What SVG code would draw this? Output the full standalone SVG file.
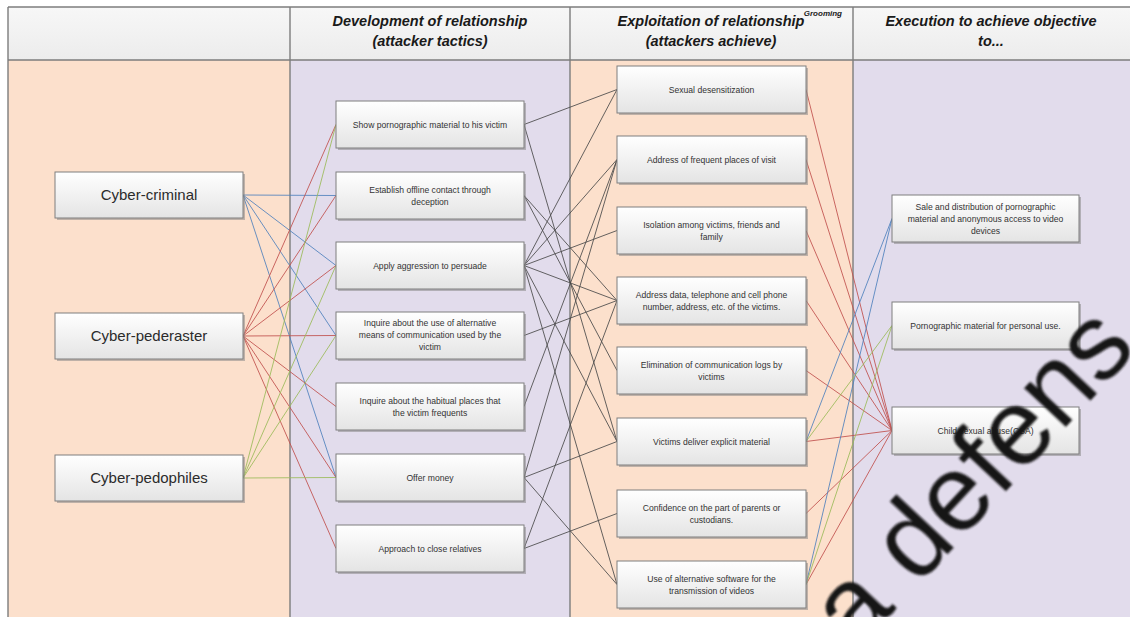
<svg xmlns="http://www.w3.org/2000/svg" width="1130" height="617" viewBox="0 0 1130 617">
  <defs>
    <linearGradient id="boxFill" x1="0" y1="0" x2="0" y2="1">
      <stop offset="0" stop-color="#ffffff"/>
      <stop offset="1" stop-color="#e4e4e4"/>
    </linearGradient>
    <linearGradient id="headFill" x1="0" y1="0" x2="0" y2="1">
      <stop offset="0" stop-color="#f7f7f7"/>
      <stop offset="1" stop-color="#ececec"/>
    </linearGradient>
    <filter id="soft" x="-5%" y="-5%" width="110%" height="110%">
      <feGaussianBlur stdDeviation="0.9"/>
    </filter>
  </defs>
  <style>
    .peach { fill: #fce0cc; }
    .lav { fill: #e2dcec; }
    .grid { stroke: #7c7c7c; stroke-width: 1.4; fill: none; }
    .head { font-family: "Liberation Sans", Arial, sans-serif; font-weight: bold; font-style: italic; font-size: 14.5px; fill: #1a1a1a; text-anchor: middle; }
    .tag { font-family: "Liberation Sans", Arial, sans-serif; font-weight: bold; font-style: italic; font-size: 8px; fill: #1a1a1a; text-anchor: end; }
    .box { fill: url(#boxFill); stroke: #7f7f7f; stroke-width: 1; }
    .shadow { fill: #8a8a8a; opacity: 0.55; }
    .big { font-family: "Liberation Sans", Arial, sans-serif; font-size: 15px; fill: #2b2b2b; text-anchor: middle; }
    .small { font-family: "Liberation Sans", Arial, sans-serif; font-size: 8.6px; fill: #333333; text-anchor: middle; }
    .c-red { stroke: #c0504d; }
    .c-blue { stroke: #4f81bd; }
    .c-green { stroke: #9bbb59; }
    .c-gray { stroke: #4a4a4a; }
    #connectors line { stroke-width: 1; opacity: 0.85; }
    .mark { font-family: "Liberation Sans", Arial, sans-serif; font-size: 108px; fill: #151515; }
  </style>

  <!-- page -->
  <rect x="0" y="0" width="1130" height="617" fill="#ffffff"/>

  <!-- column bodies -->
  <rect class="peach" x="8" y="60" width="282" height="557"/>
  <rect class="lav" x="290" y="60" width="280" height="557"/>
  <rect class="peach" x="570" y="60" width="283" height="557"/>
  <rect class="lav" x="853" y="60" width="277" height="557"/>

  <!-- header row -->
  <rect x="8" y="7" width="1122" height="53" fill="url(#headFill)"/>
  <g class="grid">
    <line x1="8" y1="7" x2="1130" y2="7"/>
    <line x1="8" y1="60" x2="1130" y2="60"/>
    <line x1="8" y1="7" x2="8" y2="617"/>
    <line x1="290" y1="7" x2="290" y2="617"/>
    <line x1="570" y1="7" x2="570" y2="617"/>
    <line x1="853" y1="7" x2="853" y2="617"/>
  </g>
  <g id="headers">
    <text class="head" x="430" y="26">Development of relationship</text>
    <text class="head" x="430" y="46">(attacker tactics)</text>
    <text class="head" x="711" y="26">Exploitation of relationship</text>
    <text class="head" x="711" y="46">(attackers achieve)</text>
    <text class="tag" x="842" y="16">Grooming</text>
    <text class="head" x="991" y="26">Execution to achieve objective</text>
    <text class="head" x="991" y="46">to...</text>
  </g>

  <!-- connectors -->
  <g id="connectors">
    <!-- Cyber-criminal -->
    <line class="c-blue" x1="243" y1="195" x2="336" y2="195.5"/>
    <line class="c-blue" x1="243" y1="195" x2="336" y2="265.5"/>
    <line class="c-blue" x1="243" y1="195" x2="336" y2="335.5"/>
    <line class="c-blue" x1="243" y1="195" x2="336" y2="477.5"/>
    <!-- Cyber-pederaster -->
    <line class="c-red" x1="243" y1="336" x2="336" y2="124.5"/>
    <line class="c-red" x1="243" y1="336" x2="336" y2="195.5"/>
    <line class="c-red" x1="243" y1="336" x2="336" y2="265.5"/>
    <line class="c-red" x1="243" y1="336" x2="336" y2="335.5"/>
    <line class="c-red" x1="243" y1="336" x2="336" y2="406.5"/>
    <line class="c-red" x1="243" y1="336" x2="336" y2="477.5"/>
    <line class="c-red" x1="243" y1="336" x2="336" y2="548.5"/>
    <!-- Cyber-pedophiles -->
    <line class="c-green" x1="243" y1="478" x2="336" y2="124.5"/>
    <line class="c-green" x1="243" y1="478" x2="336" y2="265.5"/>
    <line class="c-green" x1="243" y1="478" x2="336" y2="335.5"/>
    <line class="c-green" x1="243" y1="478" x2="336" y2="477.5"/>

    <!-- tactics to achievements -->
    <line class="c-gray" x1="524" y1="124.5" x2="617" y2="89.5"/>
    <line class="c-gray" x1="524" y1="124.5" x2="617" y2="441.5"/>
    <line class="c-gray" x1="524" y1="195.5" x2="617" y2="300.5"/>
    <line class="c-gray" x1="524" y1="195.5" x2="617" y2="370.5"/>
    <line class="c-gray" x1="524" y1="265.5" x2="617" y2="89.5"/>
    <line class="c-gray" x1="524" y1="265.5" x2="617" y2="159.5"/>
    <line class="c-gray" x1="524" y1="265.5" x2="617" y2="230.5"/>
    <line class="c-gray" x1="524" y1="265.5" x2="617" y2="300.5"/>
    <line class="c-gray" x1="524" y1="265.5" x2="617" y2="441.5"/>
    <line class="c-gray" x1="524" y1="265.5" x2="617" y2="584.5"/>
    <line class="c-gray" x1="524" y1="335.5" x2="617" y2="300.5"/>
    <line class="c-gray" x1="524" y1="406.5" x2="617" y2="159.5"/>
    <line class="c-gray" x1="524" y1="477.5" x2="617" y2="159.5"/>
    <line class="c-gray" x1="524" y1="477.5" x2="617" y2="441.5"/>
    <line class="c-gray" x1="524" y1="477.5" x2="617" y2="584.5"/>
    <line class="c-gray" x1="524" y1="548.5" x2="617" y2="300.5"/>
    <line class="c-gray" x1="524" y1="548.5" x2="617" y2="513.5"/>

    <!-- achievements to objectives -->
    <line class="c-red" x1="806" y1="89.5" x2="892" y2="430.5"/>
    <line class="c-red" x1="806" y1="159.5" x2="892" y2="430.5"/>
    <line class="c-red" x1="806" y1="230.5" x2="892" y2="430.5"/>
    <line class="c-red" x1="806" y1="300.5" x2="892" y2="430.5"/>
    <line class="c-red" x1="806" y1="370.5" x2="892" y2="430.5"/>
    <line class="c-red" x1="806" y1="441.5" x2="892" y2="430.5"/>
    <line class="c-red" x1="806" y1="513.5" x2="892" y2="430.5"/>
    <line class="c-red" x1="806" y1="584.5" x2="892" y2="430.5"/>
    <line class="c-blue" x1="806" y1="441.5" x2="892" y2="218.5"/>
    <line class="c-blue" x1="806" y1="584.5" x2="892" y2="218.5"/>
    <line class="c-green" x1="806" y1="441.5" x2="892" y2="325.5"/>
    <line class="c-green" x1="806" y1="584.5" x2="892" y2="325.5"/>
  </g>

  <!-- attackers -->
  <g id="cyber-criminal">
    <rect class="shadow" x="57" y="174" width="188" height="46"/>
    <rect class="box" x="55" y="172" width="188" height="46"/>
    <text class="big" x="149" y="200">Cyber-criminal</text>
  </g>
  <g id="cyber-pederaster">
    <rect class="shadow" x="57" y="315" width="188" height="46"/>
    <rect class="box" x="55" y="313" width="188" height="46"/>
    <text class="big" x="149" y="341">Cyber-pederaster</text>
  </g>
  <g id="cyber-pedophiles">
    <rect class="shadow" x="57" y="457" width="188" height="46"/>
    <rect class="box" x="55" y="455" width="188" height="46"/>
    <text class="big" x="149" y="483">Cyber-pedophiles</text>
  </g>

  <!-- tactics -->
  <g id="t-show">
    <rect class="shadow" x="338" y="103" width="188" height="47"/>
    <rect class="box" x="336" y="101" width="188" height="47"/>
    <text class="small" x="430" y="127.5">Show pornographic material to his victim</text>
  </g>
  <g id="t-establish">
    <rect class="shadow" x="338" y="174" width="188" height="47"/>
    <rect class="box" x="336" y="172" width="188" height="47"/>
    <text class="small" x="430" y="193">Establish offline contact through</text>
    <text class="small" x="430" y="205">deception</text>
  </g>
  <g id="t-apply">
    <rect class="shadow" x="338" y="244" width="188" height="47"/>
    <rect class="box" x="336" y="242" width="188" height="47"/>
    <text class="small" x="430" y="268.5">Apply aggression to persuade</text>
  </g>
  <g id="t-means">
    <rect class="shadow" x="338" y="314" width="188" height="47"/>
    <rect class="box" x="336" y="312" width="188" height="47"/>
    <text class="small" x="430" y="326">Inquire about the use of alternative</text>
    <text class="small" x="430" y="338">means of communication used by the</text>
    <text class="small" x="430" y="350">victim</text>
  </g>
  <g id="t-places">
    <rect class="shadow" x="338" y="385" width="188" height="47"/>
    <rect class="box" x="336" y="383" width="188" height="47"/>
    <text class="small" x="430" y="403.5">Inquire about the habitual places that</text>
    <text class="small" x="430" y="415.5">the victim frequents</text>
  </g>
  <g id="t-money">
    <rect class="shadow" x="338" y="456" width="188" height="47"/>
    <rect class="box" x="336" y="454" width="188" height="47"/>
    <text class="small" x="430" y="480.5">Offer money</text>
  </g>
  <g id="t-relatives">
    <rect class="shadow" x="338" y="527" width="188" height="47"/>
    <rect class="box" x="336" y="525" width="188" height="47"/>
    <text class="small" x="430" y="551.5">Approach to close relatives</text>
  </g>

  <!-- achievements -->
  <g id="a-desens">
    <rect class="shadow" x="619" y="68" width="189" height="47"/>
    <rect class="box" x="617" y="66" width="189" height="47"/>
    <text class="small" x="711.5" y="92.5">Sexual desensitization</text>
  </g>
  <g id="a-frequent">
    <rect class="shadow" x="619" y="138" width="189" height="47"/>
    <rect class="box" x="617" y="136" width="189" height="47"/>
    <text class="small" x="711.5" y="162.5">Address of frequent places of visit</text>
  </g>
  <g id="a-isolation">
    <rect class="shadow" x="619" y="209" width="189" height="47"/>
    <rect class="box" x="617" y="207" width="189" height="47"/>
    <text class="small" x="711.5" y="227.5">Isolation among victims, friends and</text>
    <text class="small" x="711.5" y="239.5">family</text>
  </g>
  <g id="a-address">
    <rect class="shadow" x="619" y="279" width="189" height="47"/>
    <rect class="box" x="617" y="277" width="189" height="47"/>
    <text class="small" x="711.5" y="297.5">Address data, telephone and cell phone</text>
    <text class="small" x="711.5" y="309.5">number, address, etc. of the victims.</text>
  </g>
  <g id="a-logs">
    <rect class="shadow" x="619" y="349" width="189" height="47"/>
    <rect class="box" x="617" y="347" width="189" height="47"/>
    <text class="small" x="711.5" y="367.5">Elimination of communication logs by</text>
    <text class="small" x="711.5" y="379.5">victims</text>
  </g>
  <g id="a-material">
    <rect class="shadow" x="619" y="420" width="189" height="47"/>
    <rect class="box" x="617" y="418" width="189" height="47"/>
    <text class="small" x="711.5" y="444.5">Victims deliver explicit material</text>
  </g>
  <g id="a-confidence">
    <rect class="shadow" x="619" y="492" width="189" height="47"/>
    <rect class="box" x="617" y="490" width="189" height="47"/>
    <text class="small" x="711.5" y="510.5">Confidence on the part of parents or</text>
    <text class="small" x="711.5" y="522.5">custodians.</text>
  </g>
  <g id="a-software">
    <rect class="shadow" x="619" y="563" width="189" height="47"/>
    <rect class="box" x="617" y="561" width="189" height="47"/>
    <text class="small" x="711.5" y="581.5">Use of alternative software for the</text>
    <text class="small" x="711.5" y="593.5">transmission of videos</text>
  </g>

  <!-- objectives -->
  <g id="o-sale">
    <rect class="shadow" x="894" y="197" width="187" height="47"/>
    <rect class="box" x="892" y="195" width="187" height="47"/>
    <text class="small" x="985.5" y="209.5">Sale and distribution of pornographic</text>
    <text class="small" x="985.5" y="221.5">material and anonymous access to video</text>
    <text class="small" x="985.5" y="233.5">devices</text>
  </g>
  <g id="o-personal">
    <rect class="shadow" x="894" y="304" width="187" height="47"/>
    <rect class="box" x="892" y="302" width="187" height="47"/>
    <text class="small" x="985.5" y="328.5">Pornographic material for personal use.</text>
  </g>
  <g id="o-csa">
    <rect class="shadow" x="894" y="409" width="187" height="47"/>
    <rect class="box" x="892" y="407" width="187" height="47"/>
    <text class="small" x="985.5" y="433.5">Child sexual abuse(CSA)</text>
  </g>

  <!-- overprinted lettering across the lower right -->
  <text class="mark" transform="translate(856 652) rotate(-47)" filter="url(#soft)">a defens</text>
</svg>
